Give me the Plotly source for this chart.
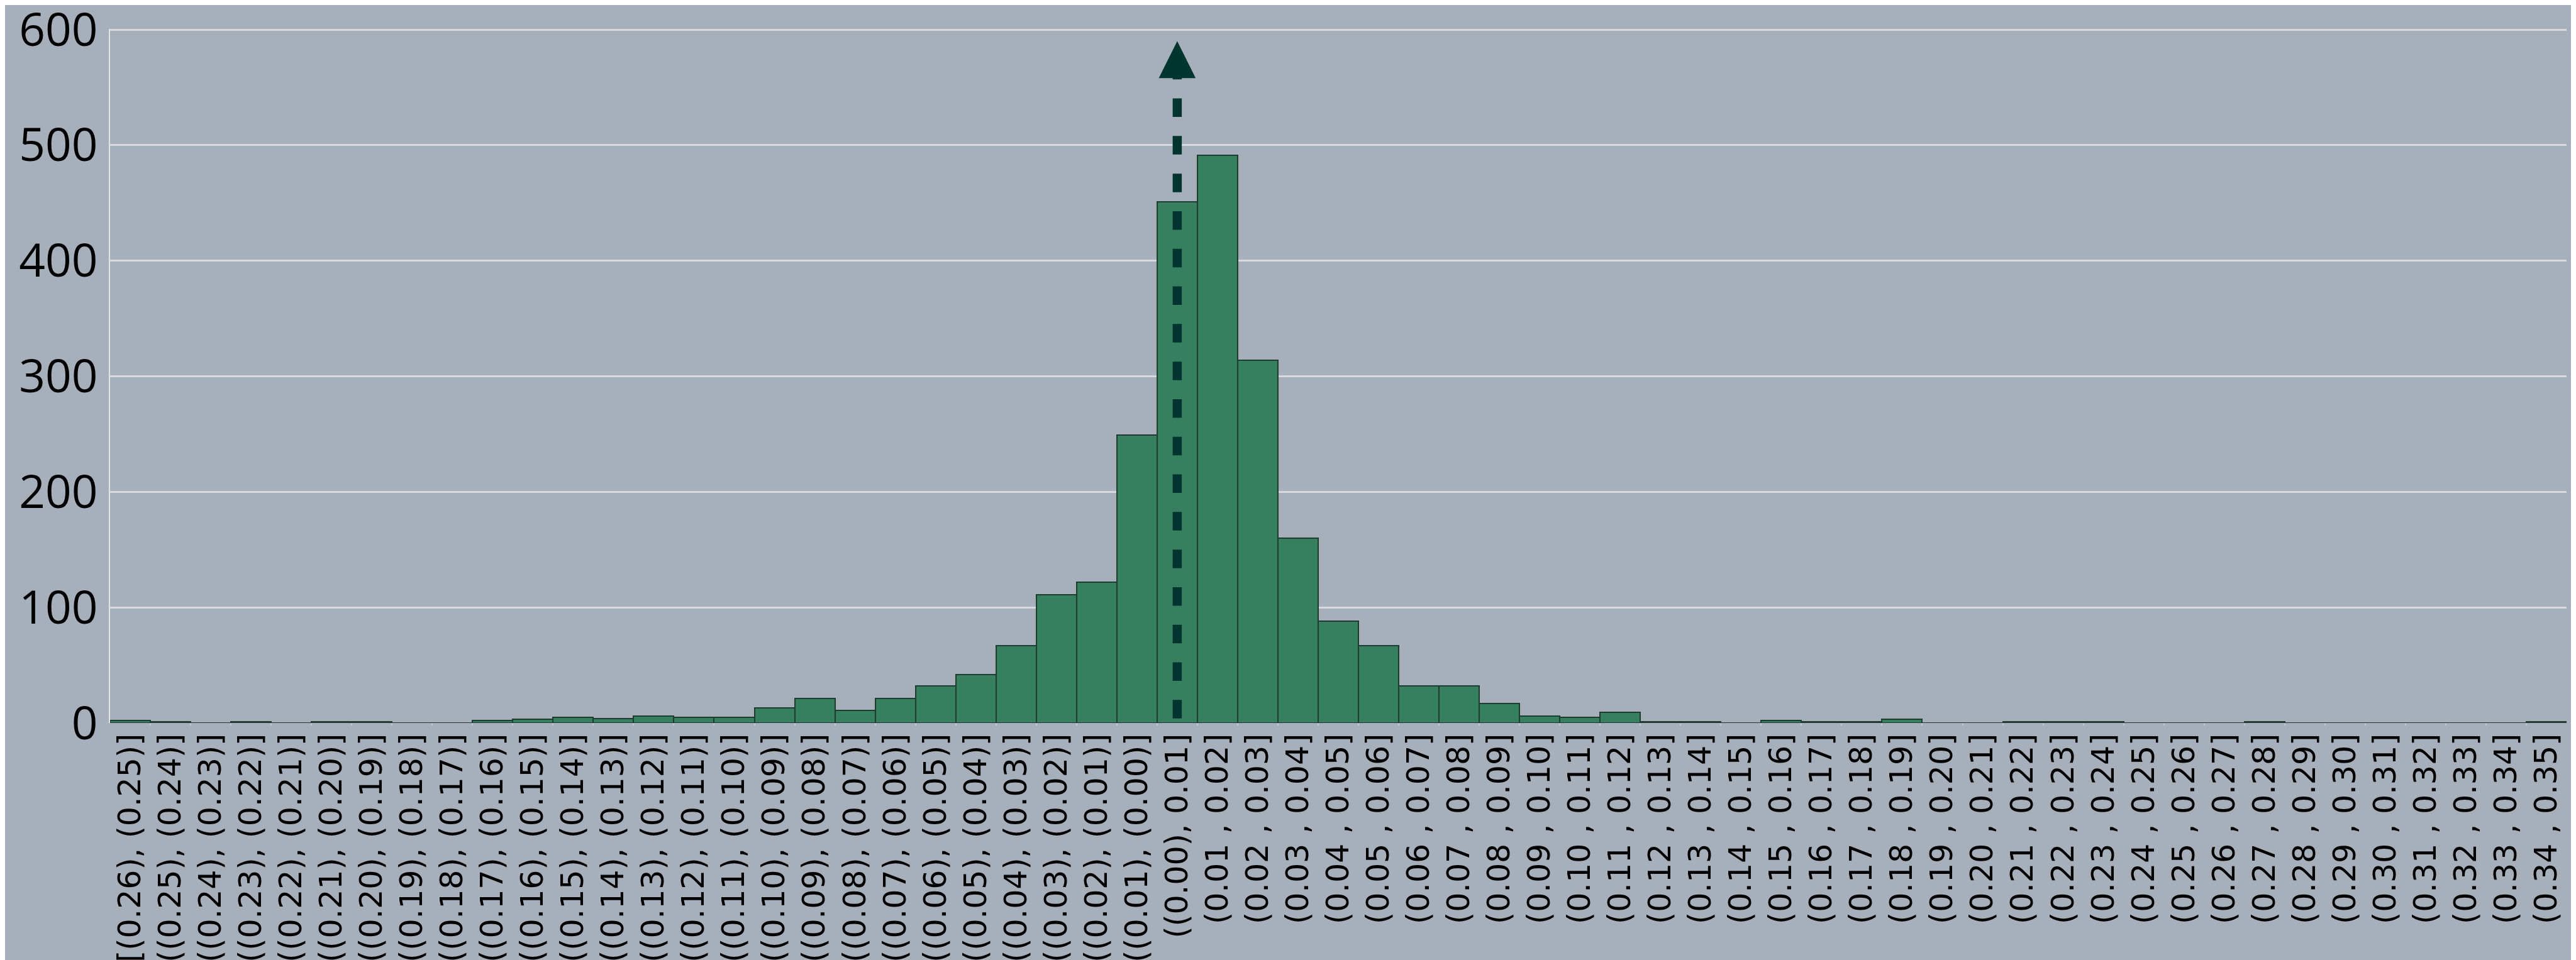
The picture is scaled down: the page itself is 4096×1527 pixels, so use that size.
import plotly.graph_objects as go

# ---------------- data ----------------
bin_labels = [
    "[(0.26), (0.25)]", "((0.25), (0.24)]", "((0.24), (0.23)]", "((0.23), (0.22)]",
    "((0.22), (0.21)]", "((0.21), (0.20)]", "((0.20), (0.19)]", "((0.19), (0.18)]",
    "((0.18), (0.17)]", "((0.17), (0.16)]", "((0.16), (0.15)]", "((0.15), (0.14)]",
    "((0.14), (0.13)]", "((0.13), (0.12)]", "((0.12), (0.11)]", "((0.11), (0.10)]",
    "((0.10), (0.09)]", "((0.09), (0.08)]", "((0.08), (0.07)]", "((0.07), (0.06)]",
    "((0.06), (0.05)]", "((0.05), (0.04)]", "((0.04), (0.03)]", "((0.03), (0.02)]",
    "((0.02), (0.01)]", "((0.01), (0.00)]", "((0.00), 0.01]",
    "(0.01 , 0.02]", "(0.02 , 0.03]", "(0.03 , 0.04]", "(0.04 , 0.05]",
    "(0.05 , 0.06]", "(0.06 , 0.07]", "(0.07 , 0.08]", "(0.08 , 0.09]",
    "(0.09 , 0.10]", "(0.10 , 0.11]", "(0.11 , 0.12]", "(0.12 , 0.13]",
    "(0.13 , 0.14]", "(0.14 , 0.15]", "(0.15 , 0.16]", "(0.16 , 0.17]",
    "(0.17 , 0.18]", "(0.18 , 0.19]", "(0.19 , 0.20]", "(0.20 , 0.21]",
    "(0.21 , 0.22]", "(0.22 , 0.23]", "(0.23 , 0.24]", "(0.24 , 0.25]",
    "(0.25 , 0.26]", "(0.26 , 0.27]", "(0.27 , 0.28]", "(0.28 , 0.29]",
    "(0.29 , 0.30]", "(0.30 , 0.31]", "(0.31 , 0.32]", "(0.32 , 0.33]",
    "(0.33 , 0.34]", "(0.34 , 0.35]",
]

counts = [
    2, 1, 0, 1, 0, 1, 1, 0, 0, 2,
    3, 5, 4, 6, 5, 5, 13, 21, 11, 21,
    32, 42, 67, 111, 122, 249, 451,
    491, 314, 160, 88, 67, 32, 32, 17, 6,
    5, 9, 1, 1, 0, 2, 1, 1, 3, 0,
    0, 1, 1, 1, 0, 0, 0, 1, 0, 0,
    0, 0, 0, 0, 1,
]

y_tick_values = [0, 100, 200, 300, 400, 500, 600]

# annotation arrow (marks the bin containing zero)
arrow_bin = "((0.00), 0.01]"
arrow_line_top = 573     # value where dashed shaft starts (under the head)
arrow_head_base = 558
arrow_head_tip = 590

# ---------------- style ----------------
BG = "#A6AFBA"
BAR_FILL = "#36805F"
BAR_EDGE = "#1D3B31"
GRID = "#D6DADE"
ARROW = "#00342F"

x_pos = list(range(len(bin_labels)))
ai = bin_labels.index(arrow_bin)
head_half = 0.458

fig = go.Figure()
fig.add_trace(go.Bar(
    x=x_pos, y=counts, width=1,
    marker=dict(color=BAR_FILL, line=dict(color=BAR_EDGE, width=2)),
    hoverinfo="skip",
))

# dashed shaft (drawn from top downward)
fig.add_shape(type="line", xref="x", yref="y",
              x0=ai, x1=ai, y0=arrow_line_top, y1=0,
              line=dict(color=ARROW, width=14.5, dash="29.5px,30.3px"),
              layer="above")
# arrow head
fig.add_shape(type="path", xref="x", yref="y",
              path=(f"M {ai - head_half},{arrow_head_base} "
                    f"L {ai + head_half},{arrow_head_base} "
                    f"L {ai},{arrow_head_tip} Z"),
              fillcolor=ARROW, line=dict(width=0), layer="above")

fig.update_layout(
    width=4096, height=1527,
    margin=dict(l=167, r=23, t=38, b=385, pad=0),
    paper_bgcolor=BG, plot_bgcolor=BG,
    bargap=0, showlegend=False,
    font=dict(family="DejaVu Sans", color="black"),
)

fig.update_xaxes(
    automargin=False,
    range=[-0.5, len(bin_labels) - 0.5],
    tickmode="array", tickvals=x_pos, ticktext=bin_labels,
    tickangle=-90,
    tickfont=dict(family="DejaVu Sans", size=49, color="black"),
    ticklabeloverflow="allow",
    showgrid=False, zeroline=False, showline=False,
    ticks="", ticklabelstandoff=6,
    minor=dict(tickmode="array", tickvals=[i + 0.5 for i in x_pos[:-1]],
               ticks="outside", ticklen=3, tickcolor="#C4CAD0", tickwidth=2),
)

fig.update_yaxes(
    automargin=False,
    range=[0, 600.6],
    tickmode="array", tickvals=y_tick_values,
    tickfont=dict(family="Open Sans", size=73, color="black"),
    ticklabeloverflow="allow",
    showgrid=True, gridcolor=GRID, gridwidth=2.5,
    zeroline=False,
    showline=True, linecolor="#E2E5E8", linewidth=2,
    ticks="", ticklabelstandoff=3,
)

fig.write_html("out.html")
